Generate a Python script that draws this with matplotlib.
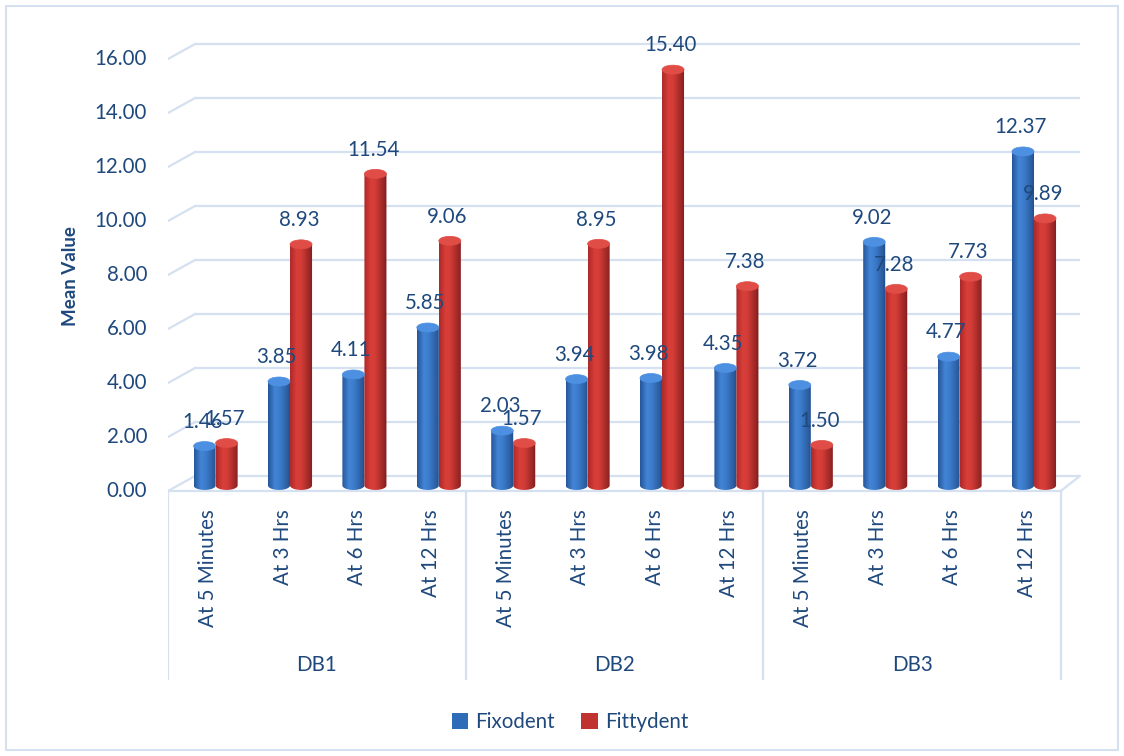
import numpy as np
import matplotlib
matplotlib.use("Agg")
import matplotlib.pyplot as plt
from matplotlib.patches import Ellipse, Rectangle, PathPatch
from matplotlib.path import Path
from matplotlib.colors import to_rgb

# ---------------- data ----------------
groups = ["DB1", "DB2", "DB3"]
times = ["At 5 Minutes", "At 3 Hrs", "At 6 Hrs", "At 12 Hrs"]
series_names = ["Fixodent", "Fittydent"]
fixodent = [1.46, 3.85, 4.11, 5.85, 2.03, 3.94, 3.98, 4.35, 3.72, 9.02, 4.77, 12.37]
fittydent = [1.57, 8.93, 11.54, 9.06, 1.57, 8.95, 15.40, 7.38, 1.50, 7.28, 7.73, 9.89]
yticks = [0, 2, 4, 6, 8, 10, 12, 14, 16]

# ---------------- style ----------------
plt.rcParams["font.family"] = ["Lato", "DejaVu Sans"]
TXT = "#1f497d"
GRID = "#d5e0f1"
FS = 14.8

W, H = 1124, 756
PXX, PXY = 74.4, 27.0          # pixels per x unit / y unit
Y0 = 476                        # pixel row of value 0 on back wall
L, R, T, B = 168, 1085, 30, 680  # axes extents in pixels
DX_L = 27 / PXX                 # depth offset left
DX_R = 19 / PXX                 # depth offset right
DY = 15 / PXY                   # depth offset vertical

fig = plt.figure(figsize=(W / 100, H / 100), dpi=100)
ax = fig.add_axes([L / W, (H - B) / H, (R - L) / W, (B - T) / H])
xmin, xmax = -0.5, -0.5 + (R - L) / PXX
ymin, ymax = -(B - Y0) / PXY, (Y0 - T) / PXY
ax.set_axis_off()

n = len(fixodent)
front_l, front_r = -0.5, n - 0.5
back_l, back_r = front_l + DX_L, front_r + DX_R

# gridlines (back wall + left slants)
for v in yticks:
    ax.plot([back_l, back_r], [v, v], color=GRID, lw=1.6, zorder=1, solid_capstyle="butt")
    ax.plot([front_l, back_l], [v - DY, v], color=GRID, lw=1.6, zorder=1)
    ax.text(front_l - 21 / PXX, v - DY, f"{v:.2f}", ha="right", va="center",
            fontsize=FS, color=TXT)
# floor front + right slant
ax.plot([front_l, front_r], [-DY, -DY], color=GRID, lw=1.6, zorder=1)
ax.plot([front_r, back_r], [-DY, 0], color=GRID, lw=1.6, zorder=1)

# category box lines
for g in range(len(groups) + 1):
    xg = front_l + g * len(times)
    ax.plot([xg, xg], [-DY, ymin], color=GRID, lw=1.6, zorder=1)

# category & group labels
for i in range(n):
    ax.text(i + 0.04, -(509 - Y0) / PXY, times[i % len(times)], rotation=90,
            ha="center", va="top", fontsize=FS, color=TXT)
for g, name in enumerate(groups):
    ax.text(front_l + g * len(times) + len(times) / 2, -(665 - Y0) / PXY, name,
            ha="center", va="center", fontsize=FS, color=TXT)


def gradient(stops, m=48):
    pos = np.array([s[0] for s in stops])
    cols = np.array([to_rgb(s[1]) for s in stops])
    xs = np.linspace(0, 1, m)
    arr = np.stack([np.interp(xs, pos, cols[:, k]) for k in range(3)], axis=-1)
    return arr[np.newaxis, :, :]


blue_grad = gradient([(0, "#26569a"), (0.3, "#4384d6"), (0.5, "#3d7dcd"), (0.85, "#2c5ea2"), (1, "#204c86")])
red_grad = gradient([(0, "#ac2a2a"), (0.3, "#da3f39"), (0.5, "#d23c37"), (0.85, "#9c2727"), (1, "#7e1d1d")])
blue_cap, red_cap = "#4d90e2", "#e04c46"

HW = 0.148
EH = 4.5 / PXY
OFF = -0.35
SHIFT = 0.14


def cylinder(xc, v, grad, capc):
    x0, x1 = xc - HW, xc + HW
    yb, yt = OFF, v + OFF
    t = np.linspace(np.pi, 2 * np.pi, 30)
    arc = np.column_stack([xc + HW * np.cos(t), yb + EH * np.sin(t)])
    verts = np.vstack([[x0, yt], [x0, yb], arc, [x1, yt], [x0, yt]])
    path = Path(verts, closed=True)
    clip = PathPatch(path, transform=ax.transData, facecolor="none", edgecolor="none")
    ax.add_patch(clip)
    im = ax.imshow(grad, extent=[x0, x1, yb - EH, yt], aspect="auto",
                   interpolation="bilinear", zorder=3)
    im.set_clip_path(clip)
    ax.add_patch(Ellipse((xc, yt), 2 * HW, 2 * EH, facecolor=capc,
                         edgecolor=capc, lw=0.5, zorder=4))


for i in range(n):
    c = i + SHIFT
    cylinder(c - HW, fixodent[i], blue_grad, blue_cap)
    cylinder(c + HW, fittydent[i], red_grad, red_cap)

for i in range(n):
    c = i + SHIFT
    ax.text(c - HW - 0.03, fixodent[i] + 0.55, f"{fixodent[i]:.2f}", ha="center",
            va="center", fontsize=FS, color=TXT, zorder=6)
    ax.text(c + HW - 0.03, fittydent[i] + 0.55, f"{fittydent[i]:.2f}", ha="center",
            va="center", fontsize=FS, color=TXT, zorder=6)

ax.set_xlim(xmin, xmax)
ax.set_ylim(ymin, ymax)

fig.text(70 / W, 1 - 276 / H, "Mean Value", rotation=90, ha="center", va="center",
         fontsize=13.5, fontweight="bold", color=TXT)

handles = [Rectangle((0, 0), 1, 1, facecolor="#2f6cb8"),
           Rectangle((0, 0), 1, 1, facecolor="#c0332f")]
fig.legend(handles, series_names, loc="center", bbox_to_anchor=(570 / W, 1 - 722 / H),
           ncol=2, frameon=False, fontsize=FS, handlelength=0.8, handleheight=0.8,
           handletextpad=0.35, columnspacing=1.3, labelcolor=TXT)

fig.patches.append(Rectangle((6 / W, 6 / H), 1 - 12 / W, 1 - 12 / H, transform=fig.transFigure,
                             facecolor="none", edgecolor=GRID, lw=1.5))

fig.savefig("out.png", dpi=100)
